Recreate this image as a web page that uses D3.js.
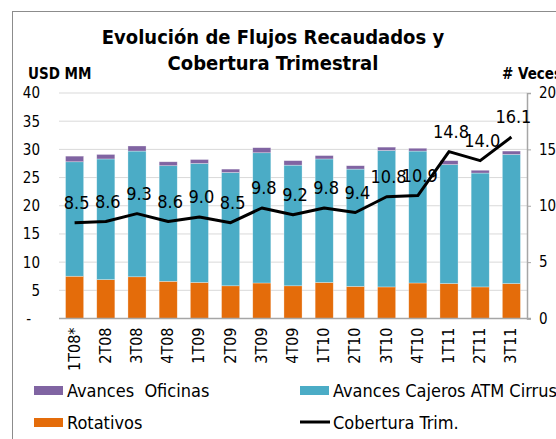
<!DOCTYPE html>
<html>
<head>
<meta charset="utf-8">
<script src="https://d3js.org/d3.v7.min.js"></script>
<style>
  body { margin: 0; background: #fff; }
  svg { display: block; font-family: "DejaVu Sans Condensed", "DejaVu Sans", sans-serif; }
</style>
</head>
<body>
<div id="chart"></div>
<script>
// quarters
const categories = ['1T08*', '2T08', '3T08', '4T08', '1T09', '2T09', '3T09', '4T09',
  '1T10', '2T10', '3T10', '4T10', '1T11', '2T11', '3T11'];

// USD MM, stacked bottom to top
const rotativos = [7.5, 6.9, 7.4, 6.6, 6.4, 5.8, 6.3, 5.8, 6.4, 5.7, 5.6, 6.3, 6.2, 5.6, 6.2];
const cajerosATM = [20.3, 21.4, 22.3, 20.5, 21.1, 20.1, 23.1, 21.4, 21.9, 20.8, 24.2, 23.4, 21.1, 20.2, 22.9];
const oficinas = [1.0, 0.8, 0.9, 0.7, 0.7, 0.6, 0.9, 0.8, 0.6, 0.6, 0.6, 0.5, 0.7, 0.5, 0.6];

// # veces (right axis)
const cobertura = [8.5, 8.6, 9.3, 8.6, 9.0, 8.5, 9.8, 9.2, 9.8, 9.4, 10.8, 10.9, 14.8, 14.0, 16.1];

const leftTicks = [0, 5, 10, 15, 20, 25, 30, 35, 40];
const rightTicks = [0, 5, 10, 15, 20];

const W = 556, H = 439;
const plot = {left: 59, right: 527, top: 93, bottom: 318.5};

const svg = d3.select('#chart').append('svg')
  .attr('width', W)
  .attr('height', H);

// outer frame (runs off the picture)
svg.append('rect')
  .attr('x', 12.5).attr('y', 11.5)
  .attr('width', 600).attr('height', 500)
  .attr('fill', 'none')
  .attr('stroke', '#8c8c8c');

// title
const title = svg.append('text')
  .attr('text-anchor', 'middle')
  .attr('font-weight', 'bold')
  .attr('font-size', 20)
  .attr('fill', '#000');
title.append('tspan').attr('x', 273).attr('y', 44).text('Evolución de Flujos Recaudados y');
title.append('tspan').attr('x', 273).attr('y', 70).text('Cobertura Trimestral');

svg.append('text')
  .attr('x', 28).attr('y', 79)
  .attr('font-weight', 'bold').attr('font-size', 15)
  .text('USD MM');
svg.append('text')
  .attr('x', 502).attr('y', 79)
  .attr('font-weight', 'bold').attr('font-size', 15)
  .text('# Veces');

const x = d3.scaleBand()
  .domain(categories)
  .range([plot.left, plot.right])
  .paddingInner(0.42)
  .paddingOuter(0.21);

const y = d3.scaleLinear().domain([0, 40]).range([plot.bottom, plot.top]);
const y2 = d3.scaleLinear().domain([0, 20]).range([plot.bottom, plot.top]);

// gridlines
svg.append('g')
  .selectAll('line')
  .data(leftTicks.filter(d => d > 0))
  .enter()
  .append('line')
  .attr('x1', plot.left).attr('x2', plot.right)
  .attr('y1', d => y(d)).attr('y2', d => y(d))
  .attr('stroke', '#d9d9d9')
  .attr('stroke-width', 1);

// left axis labels
svg.append('g')
  .selectAll('text')
  .data(leftTicks)
  .enter()
  .append('text')
  .attr('x', d => d === 0 ? 31 : 40)
  .attr('y', d => y(d))
  .attr('dy', '0.36em')
  .attr('text-anchor', 'end')
  .attr('font-size', 15)
  .text(d => d === 0 ? '-' : d);

// stacked bars
const rows = categories.map((c, i) => ({
  cat: c, rotativos: rotativos[i], cajeros: cajerosATM[i], oficinas: oficinas[i]
}));
const keys = ['rotativos', 'cajeros', 'oficinas'];
const colors = {rotativos: '#e46c0a', cajeros: '#4bacc6', oficinas: '#8064a2'};
const stacked = d3.stack().keys(keys)(rows);

svg.append('g')
  .selectAll('g')
  .data(stacked)
  .enter()
  .append('g')
  .attr('fill', d => colors[d.key])
  .selectAll('rect')
  .data(d => d)
  .enter()
  .append('rect')
  .attr('x', d => x(d.data.cat))
  .attr('y', d => y(d[1]))
  .attr('width', x.bandwidth())
  .attr('height', d => y(d[0]) - y(d[1]))
  .attr('stroke', '#ffffff')
  .attr('stroke-opacity', 0.5)
  .attr('stroke-width', 0.6);

// bottom axis line
svg.append('line')
  .attr('x1', plot.left).attr('x2', plot.right + 4)
  .attr('y1', plot.bottom).attr('y2', plot.bottom)
  .attr('stroke', '#a6a6a6').attr('stroke-width', 1.5);

// right axis
const rightAxis = svg.append('g')
  .attr('transform', 'translate(' + plot.right + ',0)')
  .call(d3.axisRight(y2).tickValues(rightTicks).tickSize(4).tickPadding(8));
rightAxis.select('.domain').attr('stroke', '#a6a6a6').attr('stroke-width', 1.5);
rightAxis.selectAll('line').attr('stroke', '#a6a6a6');
rightAxis.selectAll('text')
  .attr('font-size', 15)
  .attr('font-family', '"DejaVu Sans Condensed", "DejaVu Sans", sans-serif')
  .attr('fill', '#000');

// category labels
svg.append('g')
  .selectAll('text')
  .data(categories)
  .enter()
  .append('text')
  .attr('transform', d => 'translate(' + (x(d) + x.bandwidth() / 2 + 5) + ',' + (plot.bottom + 9) + ')rotate(-90)')
  .attr('text-anchor', 'end')
  .attr('font-size', 16)
  .text(d => d);

// coverage line
const line = d3.line()
  .x((d, i) => x(categories[i]) + x.bandwidth() / 2)
  .y(d => y2(d));

svg.append('path')
  .datum(cobertura)
  .attr('d', line)
  .attr('fill', 'none')
  .attr('stroke', '#000')
  .attr('stroke-width', 3)
  .attr('stroke-linejoin', 'round');

svg.append('g')
  .selectAll('text')
  .data(cobertura)
  .enter()
  .append('text')
  .attr('x', (d, i) => x(categories[i]) + x.bandwidth() / 2 + 2)
  .attr('y', d => y2(d) - 14)
  .attr('text-anchor', 'middle')
  .attr('font-size', 18)
  .text(d => d.toFixed(1));

// legend
const legend = svg.append('g').attr('font-size', 18);
const swatches = [
  {label: 'Avances  Oficinas', color: colors.oficinas, x: 34, y: 386},
  {label: 'Avances Cajeros ATM Cirrus', color: colors.cajeros, x: 300, y: 386},
  {label: 'Rotativos', color: colors.rotativos, x: 34, y: 418}
];
swatches.forEach(s => {
  legend.append('rect')
    .attr('x', s.x).attr('y', s.y)
    .attr('width', 29).attr('height', 9)
    .attr('fill', s.color);
  legend.append('text')
    .attr('x', s.x + 33).attr('y', s.y + 11)
    .attr('xml:space', 'preserve')
    .style('white-space', 'pre')
    .text(s.label);
});
legend.append('line')
  .attr('x1', 300).attr('x2', 330)
  .attr('y1', 422).attr('y2', 422)
  .attr('stroke', '#000').attr('stroke-width', 3);
legend.append('text')
  .attr('x', 333).attr('y', 429)
  .text('Cobertura Trim.');
</script>
</body>
</html>
